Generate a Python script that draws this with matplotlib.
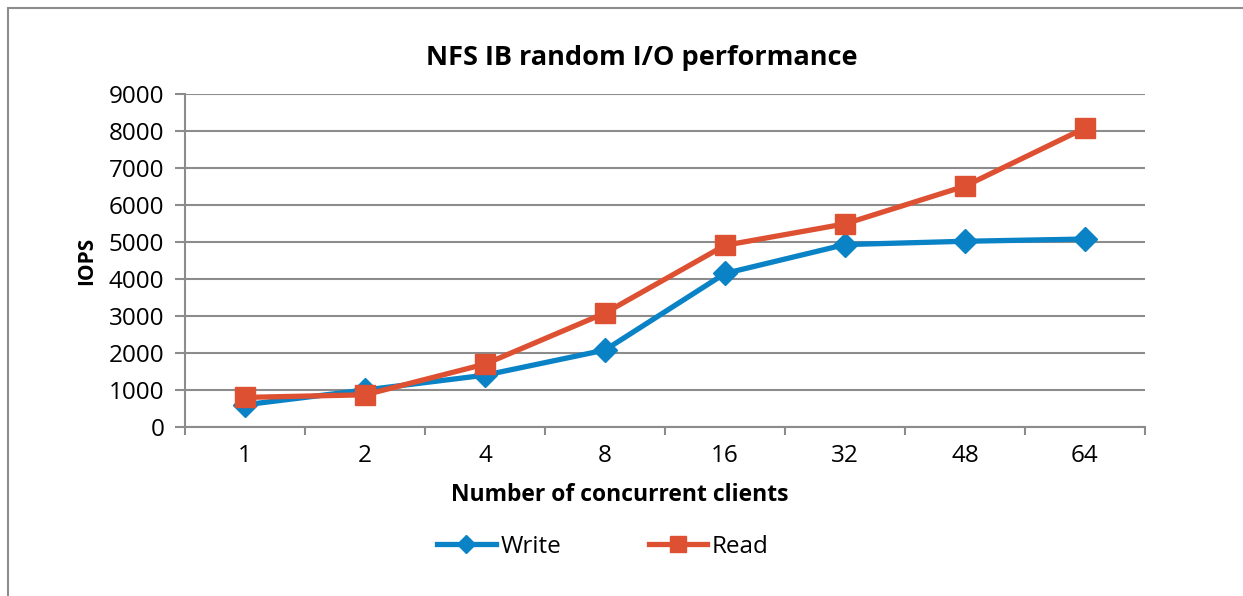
import numpy as np
import matplotlib
matplotlib.use("Agg")
import matplotlib.pyplot as plt
from matplotlib.patches import Rectangle

plt.rcParams["font.family"] = ["Open Sans", "DejaVu Sans"]

# data
clients = ["1", "2", "4", "8", "16", "32", "48", "64"]
write_iops = [600, 1000, 1400, 2080, 4150, 4930, 5020, 5080]
read_iops = [800, 870, 1700, 3080, 4910, 5490, 6510, 8080]

BLUE = "#0A82C6"
RED = "#DE5032"
GRID = "#8C8C8C"

W, H = 1243, 596
fig = plt.figure(figsize=(W / 100, H / 100), dpi=100)

# outer chart frame (cut off at right and bottom in the reference)
fig.patches.append(Rectangle((8 / W, -0.1), 1.2, 1 - 8 / H + 0.1, transform=fig.transFigure,
                             fill=False, edgecolor="#8C8C8C", lw=1.5))

ax = fig.add_axes([185 / W, (H - 427) / H, 960 / W, 333 / H])
x = np.arange(len(clients))

ax.plot(x, write_iops, color=BLUE, lw=3.8, marker="D", markersize=12,
        label="Write", zorder=3)
ax.plot(x, read_iops, color=RED, lw=3.8, marker="s", markersize=14,
        label="Read", zorder=4)

ax.set_xlim(-0.5, len(clients) - 0.5)
ax.set_ylim(0, 9000)
ax.set_yticks(np.arange(0, 9001, 1000))
ax.set_xticks(x)
ax.set_xticklabels(clients)
ax.set_xticks(np.arange(-0.5, len(clients), 1), minor=True)

ax.grid(axis="y", color=GRID, lw=1.5)
ax.set_axisbelow(True)
for s in ["top", "right"]:
    ax.spines[s].set_visible(False)
for s in ["left", "bottom"]:
    ax.spines[s].set_color(GRID)
    ax.spines[s].set_linewidth(1.5)

ax.tick_params(axis="y", length=7, width=1.5, color=GRID, labelsize=17.5, pad=8)
ax.tick_params(axis="x", which="major", length=0, labelsize=17.5, pad=12)
ax.tick_params(axis="x", which="minor", length=6, width=1.5, color=GRID)

fig.text(642 / W, (H - 58) / H, "NFS IB random I/O performance", fontsize=19.5,
         fontweight="bold", ha="center", va="center")
ax.set_ylabel("IOPS", fontsize=15, fontweight="bold", labelpad=8)
ax.set_xlabel("Number of concurrent clients", fontsize=16.5, fontweight="bold")
ax.xaxis.set_label_coords((620 - 185) / 960, -(483 - 427) / 333)

ax.legend(loc="center", bbox_to_anchor=(603 / W, (H - 547) / H), bbox_transform=fig.transFigure,
          ncol=2, frameon=False, fontsize=17.5, handlelength=2.4, handletextpad=0.2,
          columnspacing=3.6, markerscale=0.8)

fig.savefig("out.png", dpi=100)
